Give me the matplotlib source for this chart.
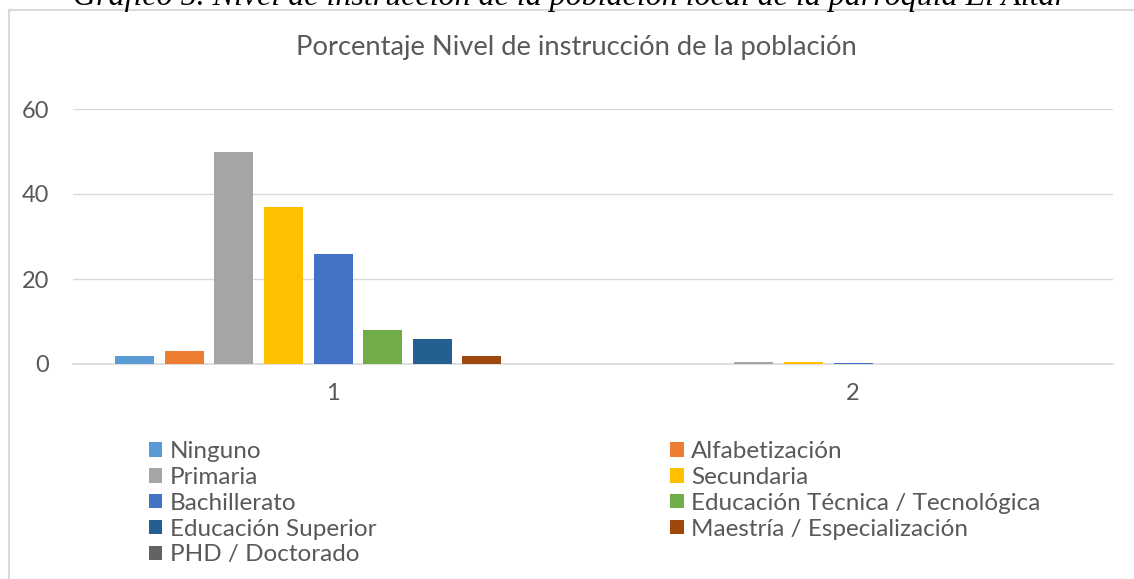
import matplotlib.pyplot as plt
from matplotlib.patches import Rectangle, Patch

# data
categories = ["1", "2"]
series = ["Ninguno", "Alfabetización", "Primaria", "Secundaria", "Bachillerato",
          "Educación Técnica / Tecnológica", "Educación Superior",
          "Maestría / Especialización", "PHD / Doctorado"]
group1 = [2, 3, 50, 37, 26, 8, 6, 2, 0]
group2 = [0.02, 0.03, 0.50, 0.37, 0.26, 0.08, 0.06, 0.02, 0]
colors = ["#5b9bd5", "#ed7d31", "#a5a5a5", "#ffc000", "#4472c4",
          "#70ad47", "#255e91", "#9e480e", "#636363"]
yticks = [0, 20, 40, 60]

W, H = 1134, 579
plt.rcParams["font.family"] = ["Lato", "DejaVu Sans"]
fig = plt.figure(figsize=(W / 100, H / 100), dpi=100)
txt = "#595959"

# chart frame
fig.patches.append(Rectangle((9 / W, -0.1), 1.2, (H - 10) / H + 0.1,
                             transform=fig.transFigure, fill=False,
                             edgecolor="#d9d9d9", linewidth=1.5))

# document caption, clipped at the top
fig.text(570 / W, (H - 5) / H,
         "Gráfico 5. Nivel de instrucción de la población local de la parroquia El Altar",
         ha="center", va="baseline", fontsize=23, style="italic",
         family="Liberation Serif", color="black")

ax = fig.add_axes([73 / W, 215 / H, 1040 / W, 255 / H])
step, width = 0.0954, 0.075
for i, (name, c) in enumerate(zip(series, colors)):
    off = (i - 4) * step
    ax.bar([0 + off, 1 + off], [group1[i], group2[i]], width=width,
           color=c, label=name, zorder=3)

ax.set_xlim(-0.5, 1.5)
ax.set_ylim(0, 60)
ax.set_yticks(yticks)
ax.set_xticks([0, 1])
ax.set_xticklabels(categories)
ax.tick_params(length=0, labelsize=17, colors=txt, pad=14)
ax.tick_params(axis="y", pad=17)
ax.grid(axis="y", color="#d9d9d9", linewidth=1, zorder=0)
for s in ["left", "right", "top"]:
    ax.spines[s].set_visible(False)
ax.spines["bottom"].set_color("#d9d9d9")
ax.spines["bottom"].set_linewidth(1.2)

fig.text(576 / W, (H - 47) / H, "Porcentaje Nivel de instrucción de la población",
         ha="center", va="center", fontsize=19.7, color=txt)

# legend fills row by row in the reference
order = [0, 2, 4, 6, 8, 1, 3, 5, 7]
handles = [Patch(facecolor=colors[k], label=series[k]) for k in order]
fig.legend(handles=handles, ncol=2, loc="upper left",
           bbox_to_anchor=(149 / W, (H - 441) / H), frameon=False,
           fontsize=17.5, labelcolor=txt, handlelength=0.55, handleheight=0.55,
           handletextpad=0.3, labelspacing=0.2, columnspacing=12.1,
           borderpad=0, borderaxespad=0)

fig.savefig("out.png", dpi=100)
